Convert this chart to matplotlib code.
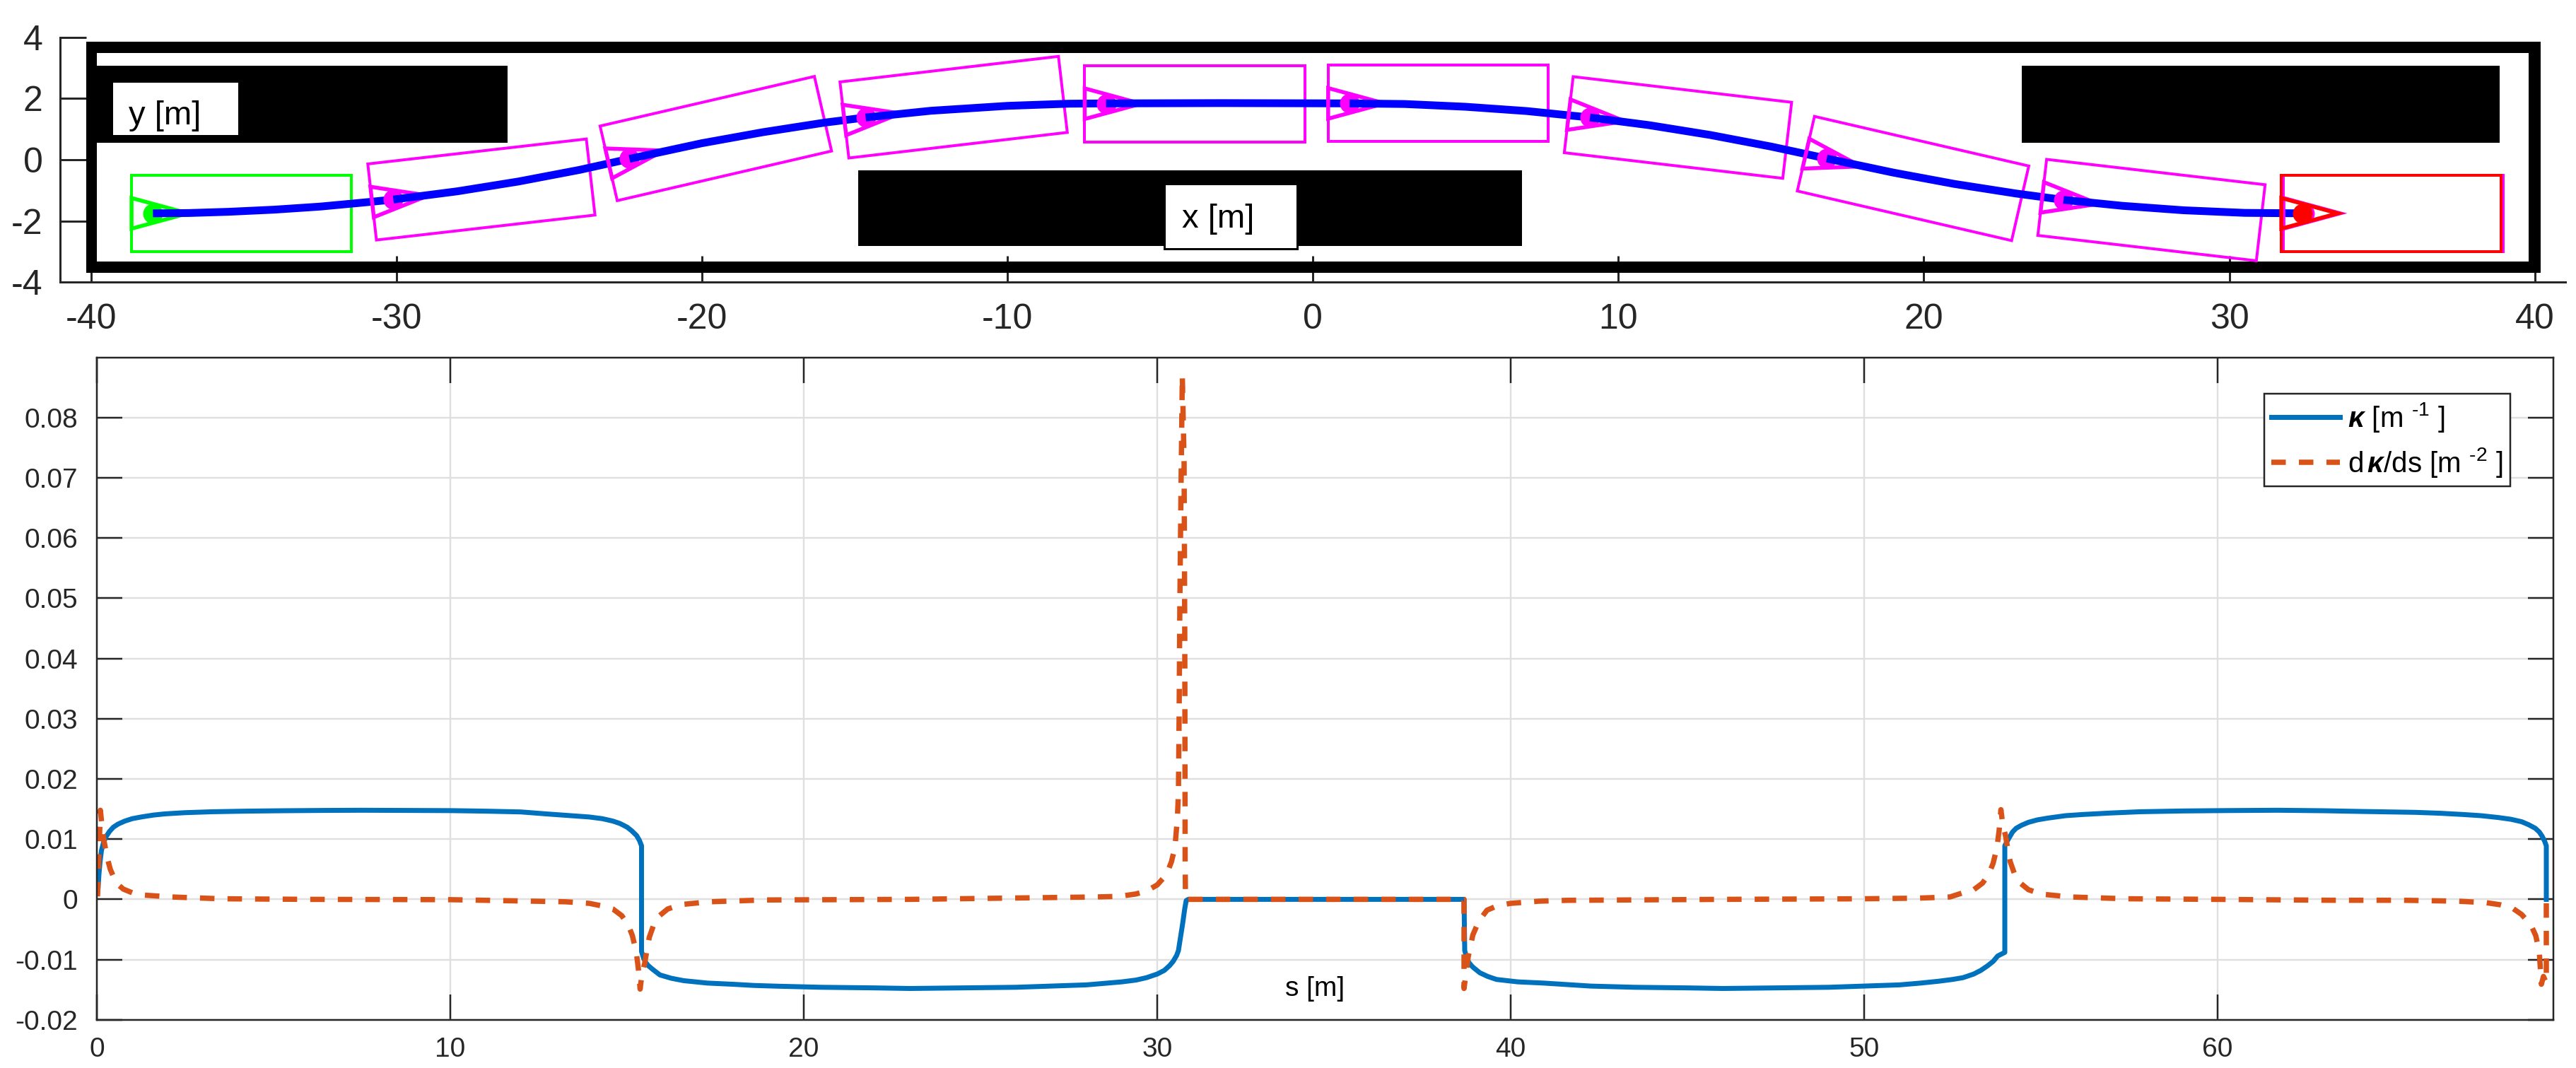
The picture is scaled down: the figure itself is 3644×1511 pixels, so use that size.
#!/usr/bin/python3
import numpy as np
import matplotlib
matplotlib.use('Agg')
import matplotlib.pyplot as plt
from matplotlib.patches import Rectangle, Polygon

# Top panel: environment and path, in metres.
wall_x_out = [-40.15, 40.18]
wall_x_in = [-39.8, 39.8]
wall_y_out = [-3.69, 3.85]
wall_y_in = [-3.33, 3.49]
block_x0 = [-39.8, 23.2, -14.88]
block_x1 = [-26.36, 38.84, 6.85]
block_y0 = [0.56, 0.56, -2.81]
block_y1 = [3.07, 3.07, -0.35]

pose_x = [-37.97, -30.1, -22.37, -14.64, -6.77, 1.2, 9.07, 16.82, 24.57, 32.47]
pose_y = [-1.75, -1.30, 0.04, 1.38, 1.83, 1.84, 1.39, 0.04, -1.31, -1.75]
pose_deg = [0, 6.5, 13, 6.66, 0, 0, -6.67, -13, -6.6, 0]
goal_x = 32.4
goal_y = -1.75

path_x = [-37.97, -36.8, -35.5, -34, -32.5, -31, -30.1, -28, -26, -24, -22.37,
          -20, -18, -16, -14.64, -12.5, -10, -8, -6.77, -3, 1.2, 3, 5, 7, 9.07,
          11, 13, 15, 16.82, 19, 21, 23, 24.57, 26.5, 28.5, 30.5, 32.4]
path_y = [-1.75, -1.74, -1.70, -1.63, -1.53, -1.39, -1.30, -1.03, -0.71, -0.33, 0.03,
          0.54, 0.90, 1.21, 1.38, 1.60, 1.76, 1.83, 1.84, 1.85, 1.84, 1.82, 1.73, 1.59, 1.38,
          1.13, 0.81, 0.43, 0.04, -0.42, -0.79, -1.10, -1.31, -1.505, -1.65, -1.735, -1.75]

xticks_top = [-40, -30, -20, -10, 0, 10, 20, 30, 40]
yticks_top = [-4, -2, 0, 2, 4]

# Bottom panel: curvature and its derivative along the path.
kappa_s = [0.03, 0.06, 0.09, 0.13, 0.19, 0.27, 0.36, 0.47, 0.6, 0.79, 1.0, 1.27, 1.6, 1.93, 2.5, 3.26,
           4.2, 5.26, 6.4, 7.5, 9.0, 10.0, 11.0, 12.0, 12.7, 13.26, 13.93, 14.3, 14.6, 14.8, 15.0,
           15.13, 15.27, 15.35, 15.41,
           15.41, 15.47, 15.53, 15.6, 15.72, 15.93, 16.25, 16.6, 17.27, 18.0, 18.6, 19.26, 20.5, 22.0,
           23.0, 24.5, 26.0, 27.0, 28.0, 28.6, 29.0, 29.4, 29.7, 30.0, 30.2, 30.35, 30.45, 30.55, 30.6,
           30.72, 30.78, 30.82, 30.88, 34.0, 38.68,
           38.7, 38.76, 38.82, 38.89, 38.94, 39.13, 39.35, 39.6, 40.2, 40.93, 42.26, 43.5, 45.0,
           46.0, 47.5, 49.0, 50.0, 51.0, 51.6, 52.1, 52.5, 52.8, 53.1, 53.3, 53.5, 53.65, 53.78, 53.98,
           53.98, 54.06, 54.12, 54.2, 54.3, 54.45, 54.65, 54.9, 55.2, 55.7, 56.2, 57.0, 57.8, 59.0, 60.3,
           61.7, 63.0, 64.07, 64.9, 65.6, 66.3, 66.93, 67.45, 67.93, 68.3, 68.6, 68.8, 68.99, 69.1,
           69.18, 69.25, 69.3, 69.3]
kappa = [0.0015, 0.0042, 0.0062, 0.0081, 0.0095, 0.0105, 0.0113, 0.012, 0.0125, 0.013, 0.0134, 0.0137,
         0.014, 0.0142, 0.0144, 0.01455, 0.01465, 0.01472, 0.01477, 0.0148, 0.01477, 0.01474, 0.01465,
         0.01452, 0.0142, 0.01396, 0.01368, 0.0134, 0.013, 0.0126, 0.012, 0.0114, 0.0106, 0.0098, 0.0089,
         -0.00866, -0.0098, -0.0105, -0.011, -0.0116, -0.01255, -0.0131, -0.0135, -0.0139, -0.0141,
         -0.0143, -0.01442, -0.0146, -0.0147, -0.0148, -0.0147, -0.0146, -0.0144, -0.0142, -0.0139,
         -0.0137, -0.0134, -0.013, -0.0124, -0.0118, -0.011, -0.0103, -0.0093, -0.0085,
         -0.004, -0.0015, -0.0002, 0, 0, 0,
         -0.0085, -0.0098, -0.0105, -0.011, -0.0113, -0.0122, -0.0128, -0.0133, -0.0137, -0.0139, -0.0144,
         -0.0146, -0.0147, -0.0148, -0.0147, -0.0146, -0.0144, -0.0142, -0.0139, -0.0136, -0.0133, -0.013,
         -0.0124, -0.0118, -0.011, -0.0103, -0.0094, -0.0088,
         0.0089, 0.0098, 0.0104, 0.0112, 0.0118, 0.0123, 0.0128, 0.0132, 0.0135, 0.0139, 0.0141, 0.01435,
         0.01455, 0.01468, 0.01475, 0.0148, 0.01472, 0.0146, 0.01452, 0.01445, 0.0143, 0.0141, 0.0139,
         0.0136, 0.0133, 0.0129, 0.0124, 0.0118, 0.0112, 0.0105, 0.0097, 0.0089, 0]

dkappa_s = [0.02, 0.05, 0.1, 0.14, 0.2, 0.29, 0.38, 0.55, 0.75, 1.0, 1.35, 2.1, 3.5, 6.0, 10.0, 13.26, 13.93,
            14.3, 14.6, 14.85, 15.03, 15.15, 15.26, 15.32, 15.37, 15.42, 15.5, 15.56, 15.63, 15.75, 15.9,
            16.15, 16.53, 17.33, 18.9, 23.0, 28.26, 28.93, 29.4, 29.7, 30.0, 30.26, 30.4, 30.5, 30.57, 30.6,
            30.62, 30.64, 30.67, 30.71, 30.76, 30.78, 30.79, 30.8, 34.0, 38.68, 38.68, 38.8, 38.93, 39.1,
            39.33, 39.65, 40.0, 40.8, 41.6, 46.0, 50.0, 51.5, 52.43, 52.8, 53.1, 53.35, 53.53, 53.65, 53.76,
            53.82, 53.87, 53.92, 54.0, 54.06, 54.13, 54.25, 54.4, 54.65, 55.03, 55.83, 57.4, 60.0,
            63.26, 65.26, 66.8, 67.6, 68.0, 68.33, 68.6, 68.86, 69.0, 69.1, 69.16, 69.22, 69.3, 69.3]
dkappa = [0.0005, 0.006, 0.0148, 0.0125, 0.0098, 0.007, 0.005, 0.0027, 0.0017, 0.0011, 0.0007, 0.0004, 0.0001,
          0, -0.00005, -0.0004, -0.00066, -0.0011, -0.0016, -0.0027, -0.0042, -0.006, -0.0087, -0.0115, -0.0149,
          -0.0125, -0.0106, -0.0085, -0.0063, -0.0043, -0.0028, -0.0016, -0.00086, -0.0004, -0.0001, 0, 0.0004,
          0.0005, 0.0009, 0.0014, 0.0024, 0.0041, 0.0062, 0.0086, 0.0134, 0.0176, 0.0308, 0.0487, 0.0667, 0.087,
          0.0727, 0.0428, 0.0068, 0, 0, 0, -0.0148, -0.0095, -0.0059, -0.0036, -0.0018, -0.001, -0.00066,
          -0.0003, -0.00016, 0, 0.0001, 0.0002, 0.0004, 0.0011, 0.0016, 0.0027, 0.0042, 0.006, 0.0087, 0.0115,
          0.0149, 0.0125, 0.0106, 0.0085, 0.0063, 0.0043, 0.0028, 0.0016, 0.00086, 0.0004, 0.0001, 0,
          -0.00015, -0.00015, -0.0003, -0.00055, -0.0009, -0.0014, -0.0025, -0.0042, -0.006, -0.0086, -0.0141,
          -0.0128, -0.0139, 0]

xticks_bot = [0, 10, 20, 30, 40, 50, 60]
yticks_bot = [-0.02, -0.01, 0, 0.01, 0.02, 0.03, 0.04, 0.05, 0.06, 0.07, 0.08]
ylabels_bot = ['-0.02', '-0.01', '0', '0.01', '0.02', '0.03', '0.04', '0.05', '0.06', '0.07', '0.08']

W, H = 3644, 1511
INK = '#262626'

plt.rcParams['font.family'] = ['Liberation Sans', 'DejaVu Sans']
plt.rcParams['mathtext.fontset'] = 'custom'
plt.rcParams['mathtext.rm'] = 'Liberation Sans'
plt.rcParams['mathtext.it'] = 'Liberation Sans:italic'
plt.rcParams['mathtext.bf'] = 'Liberation Sans:bold'
plt.rcParams['mathtext.bfit'] = 'Liberation Sans:italic:bold'
plt.rcParams['lines.scale_dashes'] = False


def pt(px):
    return px * 0.72


def axes_box(x0, y0, x1, y1):
    return [x0 / W, 1 - y1 / H, (x1 - x0) / W, (y1 - y0) / H]


def draw_car(ax, x, y, deg, colour, z):
    t = np.deg2rad(deg)
    rot = np.array([[np.cos(t), -np.sin(t)], [np.sin(t), np.cos(t)]])
    box = np.array([[-0.7, -1.25], [6.5, -1.25], [6.5, 1.25], [-0.7, 1.25]]) @ rot.T + [x, y]
    tri = np.array([[-0.7, -0.5], [1.15, 0], [-0.7, 0.5]]) @ rot.T + [x, y]
    ax.add_patch(Polygon(box, closed=True, fill=False, edgecolor=colour, lw=pt(4), zorder=z))
    ax.add_patch(Polygon(tri, closed=True, fill=False, edgecolor=colour, lw=pt(5.5), zorder=z))
    ax.plot([x], [y], 'o', color=colour, ms=pt(28), mew=0, zorder=z)


def text_box(fig, x0, y0, x1, y1, label, tx, ty, size):
    # white annotation box with a thin black frame, pixel coordinates
    fig.add_artist(Rectangle((x0 / W, 1 - y1 / H), (x1 - x0) / W, (y1 - y0) / H,
                             transform=fig.transFigure, facecolor='white',
                             edgecolor='black', lw=pt(3), zorder=10))
    fig.text(tx / W, 1 - ty / H, label, fontsize=size, color='black', zorder=11,
             ha='left', va='baseline')


fig = plt.figure(figsize=(W / 100, H / 100), dpi=100, facecolor='white')

# top panel
ax1 = fig.add_axes(axes_box(85.4, 52.7, 3629, 399.3))
ax1.set_xlim(-41, 41)
ax1.set_ylim(-4, 4)
ax1.set_axisbelow(True)
for side in ['top', 'right']:
    ax1.spines[side].set_visible(False)
for side in ['left', 'bottom']:
    ax1.spines[side].set_linewidth(pt(3))
    ax1.spines[side].set_color(INK)
ax1.set_xticks(xticks_top)
ax1.set_xticklabels([str(v) for v in xticks_top])
ax1.set_yticks(yticks_top)
ax1.set_yticklabels([str(v) for v in yticks_top])
ax1.tick_params(axis='x', direction='in', length=pt(37), width=pt(3), color=INK,
                labelcolor=INK, labelsize=36, pad=pt(30))
ax1.tick_params(axis='y', direction='in', length=pt(37), width=pt(3), color=INK,
                labelcolor=INK, labelsize=36, pad=pt(25))

# outer wall as four bars, then the parking blocks
ax1.add_patch(Rectangle((wall_x_out[0], wall_y_in[1]), wall_x_out[1] - wall_x_out[0],
                        wall_y_out[1] - wall_y_in[1], color='black', lw=0, zorder=1))
ax1.add_patch(Rectangle((wall_x_out[0], wall_y_out[0]), wall_x_out[1] - wall_x_out[0],
                        wall_y_in[0] - wall_y_out[0], color='black', lw=0, zorder=1))
ax1.add_patch(Rectangle((wall_x_out[0], wall_y_out[0]), wall_x_in[0] - wall_x_out[0],
                        wall_y_out[1] - wall_y_out[0], color='black', lw=0, zorder=1))
ax1.add_patch(Rectangle((wall_x_in[1], wall_y_out[0]), wall_x_out[1] - wall_x_in[1],
                        wall_y_out[1] - wall_y_out[0], color='black', lw=0, zorder=1))
for x0, x1, y0, y1 in zip(block_x0, block_x1, block_y0, block_y1):
    ax1.add_patch(Rectangle((x0, y0), x1 - x0, y1 - y0, color='black', lw=0, zorder=1))

# each car sits over the path up to it, the next stretch of path runs over the car
draw_car(ax1, pose_x[0], pose_y[0], pose_deg[0], '#00FF00', 2)
z = 2.0
cut = [int(np.argmin(np.abs(np.array(path_x) - min(v, path_x[-1])))) for v in pose_x]
for i in range(len(pose_x) - 1):
    z += 0.1
    ax1.plot(path_x[cut[i]:cut[i + 1] + 1], path_y[cut[i]:cut[i + 1] + 1], color='#0000FF',
             lw=pt(11), solid_capstyle='butt', zorder=z)
    z += 0.1
    draw_car(ax1, pose_x[i + 1], pose_y[i + 1], pose_deg[i + 1], '#FF00FF', z)
draw_car(ax1, goal_x, goal_y, 0, '#FF0000', z + 0.1)

# bottom panel
ax2 = fig.add_axes(axes_box(137, 505.7, 3612, 1442.8))
ax2.set_xlim(0, 69.5)
ax2.set_ylim(-0.02, 0.09)
ax2.set_axisbelow(True)
for side in ax2.spines:
    ax2.spines[side].set_linewidth(pt(2.5))
    ax2.spines[side].set_color(INK)
ax2.set_xticks(xticks_bot)
ax2.set_xticklabels([str(v) for v in xticks_bot])
ax2.set_yticks(yticks_bot)
ax2.set_yticklabels(ylabels_bot)
ax2.tick_params(axis='both', direction='in', length=pt(36), width=pt(2.5), color=INK,
                labelcolor=INK, labelsize=28, top=True, right=True)
ax2.tick_params(axis='x', pad=pt(24))
ax2.tick_params(axis='y', pad=pt(27))
ax2.grid(True, color='#DFDFDF', lw=pt(2.4))

line_k, = ax2.plot(kappa_s, kappa, color='#0072BD', lw=pt(7), solid_joinstyle='round',
                   label=r'$\mathbfit{\kappa}$ [m $^{\text{-}1}$ ]')
line_d, = ax2.plot(dkappa_s, dkappa, color='#D95319', lw=pt(7.5), dashes=(pt(20.5), pt(18.5)),
                   dash_capstyle='butt', dash_joinstyle='round',
                   label=r'd$\,\mathbfit{\kappa}$/ds [m $^{\text{-}2}$ ]')

leg = ax2.legend(loc='upper right', bbox_to_anchor=(3551 / W, 1 - 556.7 / H),
                 bbox_transform=fig.transFigure, fontsize=29, frameon=True, fancybox=False,
                 framealpha=1, edgecolor=INK, borderaxespad=0, borderpad=0.25,
                 handlelength=2.4, handletextpad=0.28, labelspacing=0.42)
leg.get_frame().set_linewidth(pt(2.5))

ax2.text(1860 / W, 1 - 1399 / H, 's [m]', transform=fig.transFigure, fontsize=28,
         color='black', ha='center', va='center')

text_box(fig, 158.4, 115, 338, 191.7, 'y [m]', 182.4, 176, 34)
text_box(fig, 1646.5, 259.5, 1834.5, 351.5, 'x [m]', 1671.7, 321.7, 34)

fig.savefig('out.png', dpi=100)
